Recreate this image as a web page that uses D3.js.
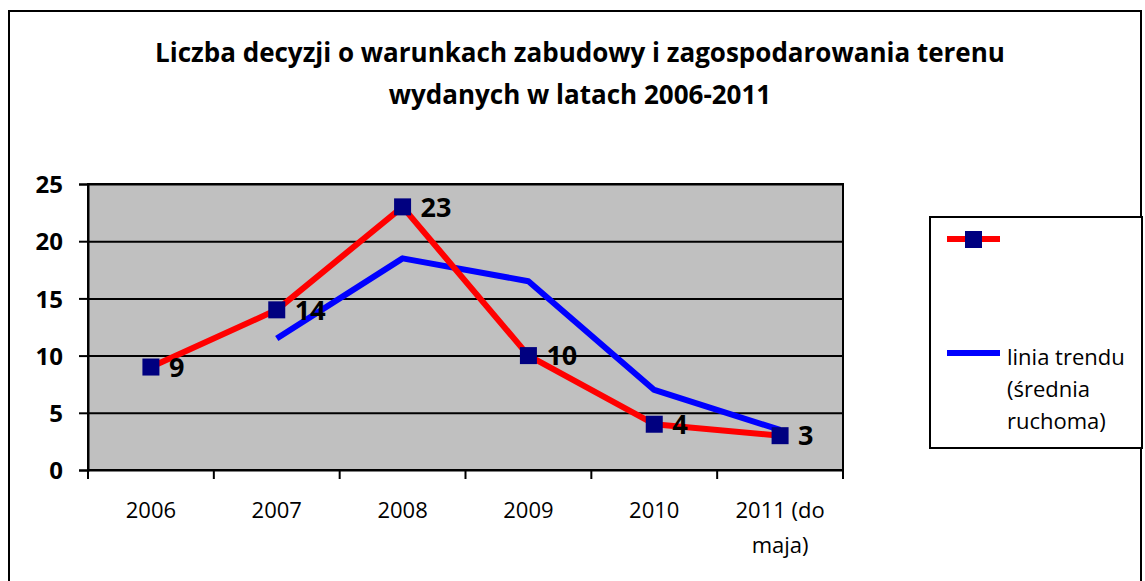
<!DOCTYPE html>
<html>
<head>
<meta charset="utf-8">
<script src="https://cdn.jsdelivr.net/npm/d3@7"></script>
<style>
  body { margin: 0; background: #fff; }
  text { font-family: "Open Sans", "DejaVu Sans", sans-serif; fill: #000; }
</style>
</head>
<body>
<div id="chart"></div>
<script>
// data
var years = ["2006", "2007", "2008", "2009", "2010", "2011 (do maja)"];
var decisions = [9, 14, 23, 10, 4, 3];
var trendYears = ["2007", "2008", "2009", "2010", "2011 (do maja)"];
var trendValues = [11.5, 18.5, 16.5, 7, 3.5];
var yTicks = [0, 5, 10, 15, 20, 25];
var titleLines = ["Liczba decyzji o warunkach zabudowy i zagospodarowania terenu",
                  "wydanych w latach 2006-2011"];
var legendLabels = ["", "linia trendu", "(średnia", "ruchoma)"];

var W = 1145, H = 581;
var margin = { top: 184, left: 88 },
    width = 843 - 88,
    height = 470 - 184;

var svg = d3.select("#chart").append("svg")
    .attr("width", W).attr("height", H);

// outer chart frame
svg.append("rect")
    .attr("x", 9).attr("y", 11)
    .attr("width", 1132).attr("height", 580)
    .attr("fill", "none").attr("stroke", "#000").attr("stroke-width", 2);

// title
svg.append("g").selectAll("text")
    .data(titleLines).enter().append("text")
    .attr("x", 580)
    .attr("y", function (d, i) { return 62 + i * 42; })
    .attr("text-anchor", "middle")
    .style("font-size", "26px")
    .style("font-weight", "bold")
    .text(function (d) { return d; });

var g = svg.append("g")
    .attr("transform", "translate(" + margin.left + "," + margin.top + ")");

var x = d3.scaleBand().domain(years).range([0, width]);
var y = d3.scaleLinear().domain([0, 25]).range([height, 0]);
function cx(d) { return x(d) + x.bandwidth() / 2; }

// plot background
g.append("rect")
    .attr("width", width).attr("height", height)
    .attr("fill", "#c0c0c0");

// gridlines
g.append("g")
    .call(d3.axisLeft(y).tickValues(yTicks).tickSize(-width).tickFormat(""))
    .call(function (s) {
        s.select(".domain").remove();
        s.selectAll("line").attr("stroke", "#000").attr("stroke-width", 2);
    });

// plot border
g.append("rect")
    .attr("width", width).attr("height", height)
    .attr("fill", "none").attr("stroke", "#000").attr("stroke-width", 2);

// y axis
var yAxis = g.append("g")
    .call(d3.axisLeft(y).tickValues(yTicks).tickSize(9).tickPadding(16));
yAxis.select(".domain").attr("stroke", "#000").attr("stroke-width", 2);
yAxis.selectAll("line").attr("stroke", "#000").attr("stroke-width", 2);
yAxis.selectAll("text")
    .style("font-size", "24px").style("font-weight", "bold")
    .attr("dy", "0.36em");

// x axis: ticks on band boundaries
var bounds = years.map(function (d) { return x(d); }).concat([width]);
var xAxis = g.append("g").attr("transform", "translate(0," + height + ")");
xAxis.append("line").attr("x1", 0).attr("x2", width)
    .attr("stroke", "#000").attr("stroke-width", 2);
xAxis.selectAll(".tk").data(bounds).enter().append("line")
    .attr("x1", function (d) { return d; }).attr("x2", function (d) { return d; })
    .attr("y1", 0).attr("y2", 9)
    .attr("stroke", "#000").attr("stroke-width", 2);
xAxis.selectAll(".lbl").data(years).enter().append("text")
    .attr("text-anchor", "middle")
    .style("font-size", "22px")
    .each(function (d) {
        var parts = d === "2011 (do maja)" ? ["2011 (do", "maja)"] : [d];
        var t = d3.select(this);
        parts.forEach(function (p, i) {
            t.append("tspan")
                .attr("x", cx(d))
                .attr("y", 48 + i * 35)
                .text(p);
        });
    });

// trend line (moving average)
g.append("path")
    .datum(trendValues)
    .attr("fill", "none").attr("stroke", "#0000ff").attr("stroke-width", 6)
    .attr("stroke-linejoin", "round")
    .attr("d", d3.line()
        .x(function (d, i) { return cx(trendYears[i]); })
        .y(function (d) { return y(d); }));

// main series
g.append("path")
    .datum(decisions)
    .attr("fill", "none").attr("stroke", "#ff0000").attr("stroke-width", 6)
    .attr("stroke-linejoin", "round")
    .attr("d", d3.line()
        .x(function (d, i) { return cx(years[i]); })
        .y(function (d) { return y(d); }));

g.selectAll(".marker").data(decisions).enter().append("rect")
    .attr("x", function (d, i) { return cx(years[i]) - 8.5; })
    .attr("y", function (d) { return y(d) - 8.5; })
    .attr("width", 17).attr("height", 17)
    .attr("fill", "#000080");

g.selectAll(".vlabel").data(decisions).enter().append("text")
    .attr("x", function (d, i) { return cx(years[i]) + 18; })
    .attr("y", function (d) { return y(d); })
    .attr("dy", "0.36em")
    .style("font-size", "27px").style("font-weight", "bold")
    .text(function (d) { return d; });

// legend
var lg = svg.append("g");
lg.append("rect")
    .attr("x", 930).attr("y", 217).attr("width", 212).attr("height", 231)
    .attr("fill", "#fff").attr("stroke", "#000").attr("stroke-width", 2);
lg.append("line").attr("x1", 947).attr("x2", 1000).attr("y1", 239).attr("y2", 239)
    .attr("stroke", "#ff0000").attr("stroke-width", 6);
lg.append("rect").attr("x", 965).attr("y", 231).attr("width", 17).attr("height", 17)
    .attr("fill", "#000080");
lg.append("line").attr("x1", 947).attr("x2", 1000).attr("y1", 353).attr("y2", 353)
    .attr("stroke", "#0000ff").attr("stroke-width", 6);
lg.selectAll(".ltext").data(legendLabels.slice(1)).enter().append("text")
    .attr("x", 1007)
    .attr("y", function (d, i) { return 365 + i * 32; })
    .style("font-size", "22px")
    .text(function (d) { return d; });
</script>
</body>
</html>
